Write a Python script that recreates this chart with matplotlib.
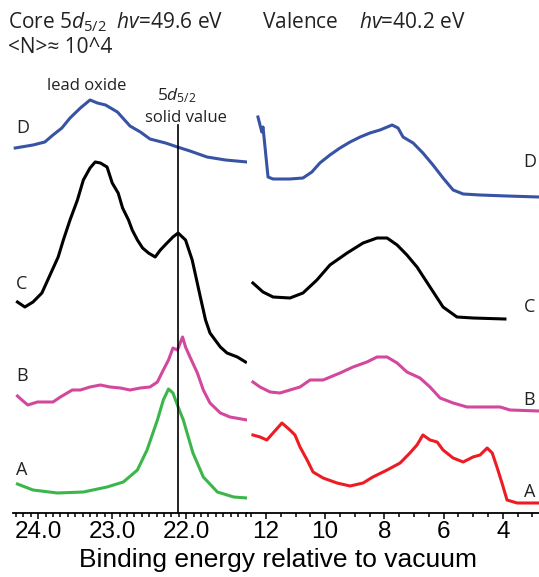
import numpy as np
import matplotlib
matplotlib.use("Agg")
import matplotlib.pyplot as plt
from matplotlib.ticker import MultipleLocator

plt.rcParams['mathtext.fontset'] = 'custom'
plt.rcParams['mathtext.rm'] = 'Open Sans'
plt.rcParams['mathtext.it'] = 'Open Sans:italic'

# ---- core level 5d5/2 spectra (binding energy eV, offset intensity a.u.)
core_D_e = [24.31, 24.07, 23.91, 23.80, 23.68, 23.57, 23.43, 23.30, 23.20, 23.09, 22.93,
            22.76, 22.62, 22.49, 22.28, 22.12, 21.95, 21.72, 21.47, 21.18]
core_D_y = [365, 368, 371, 378, 385, 395, 405, 413, 410, 408, 401,
            387, 381, 374, 370, 366, 362, 356, 353, 351]

core_C_e = [24.28, 24.18, 24.07, 23.95, 23.84, 23.73, 23.66, 23.57, 23.47, 23.39, 23.30,
            23.23, 23.16, 23.07, 23.00, 22.92, 22.86, 22.78, 22.73, 22.66, 22.59, 22.51,
            22.42, 22.35, 22.26, 22.18, 22.11, 22.01, 21.92, 21.81, 21.74, 21.68, 21.54,
            21.45, 21.31, 21.20]
core_C_y = [211, 206, 211, 220, 238, 256, 273, 293, 313, 333, 345,
            351, 350, 346, 330, 320, 305, 293, 283, 273, 265, 260,
            256, 263, 270, 276, 280, 273, 253, 216, 193, 180, 166,
            160, 156, 151]

core_B_e = [24.28, 24.22, 24.14, 24.01, 23.91, 23.80, 23.70, 23.54, 23.43, 23.30, 23.16,
            23.03, 22.89, 22.76, 22.62, 22.49, 22.39, 22.31, 22.24, 22.18, 22.12, 22.05,
            22.01, 21.95, 21.85, 21.77, 21.68, 21.54, 21.41, 21.18]
core_B_y = [117, 113, 108, 111, 111, 111, 116, 123, 123, 126, 128,
            126, 125, 123, 125, 126, 131, 143, 153, 165, 163, 176,
            166, 156, 140, 123, 110, 100, 96, 93]

core_A_e = [24.28, 24.07, 23.74, 23.39, 23.07, 22.85, 22.66, 22.53, 22.39, 22.31, 22.24,
            22.18, 22.11, 22.04, 21.91, 21.77, 21.58, 21.36, 21.18]
core_A_y = [29, 23, 20, 21, 26, 31, 43, 63, 93, 113, 124,
            120, 106, 93, 60, 36, 21, 16, 15]

# ---- valence spectra
val_D_e = [12.27, 12.14, 12.10, 11.93, 11.76, 11.19, 10.75, 10.45, 10.18, 9.84, 9.50,
           9.16, 8.82, 8.49, 8.15, 7.74, 7.54, 7.37, 7.03, 6.70, 6.36, 6.02,
           5.68, 5.34, 4.77, 3.86, 2.78]
val_D_y = [396, 381, 386, 336, 334, 334, 335, 341, 350, 358, 365,
           371, 376, 380, 383, 388, 385, 376, 370, 360, 348, 335,
           323, 319, 318, 317, 316]

val_C_e = [12.44, 12.10, 11.76, 11.19, 10.75, 10.28, 9.84, 9.26, 8.72, 8.25, 7.91,
           7.57, 7.24, 6.90, 6.46, 6.02, 5.55, 5.01, 3.93]
val_C_y = [230, 221, 216, 215, 220, 233, 248, 260, 270, 275, 275,
           268, 258, 246, 226, 206, 196, 195, 194]

val_B_e = [12.44, 12.20, 11.86, 11.53, 11.19, 10.85, 10.51, 10.07, 9.50, 9.06, 8.59,
           8.25, 7.91, 7.57, 7.24, 6.80, 6.46, 6.12, 5.68, 5.21, 4.77, 4.09,
           3.76, 2.78]
val_B_y = [131, 126, 121, 120, 123, 126, 133, 133, 140, 146, 151,
           156, 156, 150, 141, 135, 126, 115, 110, 106, 106, 106,
           103, 102]

val_A_e = [12.44, 12.20, 11.97, 11.76, 11.46, 11.19, 11.02, 10.85, 10.61, 10.41, 10.07,
           9.60, 9.16, 8.72, 8.39, 7.91, 7.47, 7.14, 6.90, 6.70, 6.46, 6.22,
           6.02, 5.68, 5.34, 5.01, 4.77, 4.53, 4.36, 4.20, 4.03, 3.86, 3.52, 2.78]
val_A_y = [78, 76, 73, 80, 90, 83, 78, 66, 53, 41, 35,
           30, 27, 30, 36, 43, 50, 60, 68, 78, 73, 71,
           63, 55, 51, 56, 58, 65, 60, 46, 30, 13, 10, 10]

solid_value_e = 22.11

blue, black, magenta, green, red = '#3953a4', '#000000', '#d2489d', '#3cb54a', '#ed1c24'

W, H = 539, 577
fig = plt.figure(figsize=(W / 100, H / 100), dpi=100)

def px_box(x0, x1, ytop, ybot):
    return [x0 / W, 1 - ybot / H, (x1 - x0) / W, (ybot - ytop) / H]

ax1 = fig.add_axes(px_box(13, 247, 90, 513))
ax2 = fig.add_axes(px_box(247, 539, 90, 513))

lw = 2.2
ax1.plot(core_D_e, core_D_y, color=blue, lw=lw)
ax1.plot(core_C_e, core_C_y, color=black, lw=lw)
ax1.plot(core_B_e, core_B_y, color=magenta, lw=lw)
ax1.plot(core_A_e, core_A_y, color=green, lw=lw)
ax1.plot([solid_value_e, solid_value_e], [0, 388], color='k', lw=1.2, clip_on=False)

ax2.plot(val_D_e, val_D_y, color=blue, lw=lw)
ax2.plot(val_C_e, val_C_y, color=black, lw=lw)
ax2.plot(val_B_e, val_B_y, color=magenta, lw=lw)
ax2.plot(val_A_e, val_A_y, color=red, lw=lw)

ax1.set_xlim(24.34, 21.18)
ax2.set_xlim(12.64, 2.78)

ax1.xaxis.set_major_locator(MultipleLocator(1.0))
ax1.xaxis.set_minor_locator(MultipleLocator(0.1))
ax1.xaxis.set_major_formatter(matplotlib.ticker.FormatStrFormatter('%.1f'))
ax2.xaxis.set_major_locator(MultipleLocator(2))
ax2.xaxis.set_minor_locator(MultipleLocator(0.5))

for ax in (ax1, ax2):
    ax.set_ylim(0, 423)
    for s in ('top', 'left', 'right'):
        ax.spines[s].set_visible(False)
    ax.spines['bottom'].set_linewidth(1.3)
    ax.set_yticks([])
    ax.patch.set_alpha(0)
    ax.tick_params(axis='x', which='major', length=4, width=1.1, pad=2,
                   labelsize=17.5, direction='out')
    ax.tick_params(axis='x', which='minor', length=3, width=1.1, direction='out')
    for lab in ax.get_xticklabels():
        lab.set_family('Liberation Sans')

lab_kw = dict(fontsize=13, family='Open Sans', color='#222222', va='center')
for t, y in zip('DCBA', [385, 229, 137, 43]):
    ax1.text(24.30, y, t, ha='left', **lab_kw)
for t, y in zip('DCBA', [351, 206, 113, 21]):
    ax2.text(3.30, y, t, ha='left', clip_on=False, **lab_kw)

def ftext(x, y, s, **kw):
    fig.text(x / W, 1 - y / H, s, va='baseline', **kw)

ftext(8, 28, r'Core 5$d_{5/2}$  $hv$=49.6 eV', fontsize=15, family=['Open Sans', 'DejaVu Sans'], color='#222222')
ftext(8, 53, '<N>\u2248 10^4', fontsize=15, family=['Open Sans', 'DejaVu Sans'], color='#222222')
ftext(262, 28, r'Valence    $hv$=40.2 eV', fontsize=15, family=['Open Sans', 'DejaVu Sans'], color='#222222')
ftext(87, 90, 'lead oxide', fontsize=12, family='Open Sans', ha='center', color='#222222')
ftext(177, 100, r'5$d_{5/2}$', fontsize=12.5, family='Open Sans', ha='center', color='#222222')
ftext(186, 122, 'solid value', fontsize=12, family='Open Sans', ha='center', color='#222222')
ftext(278, 567, 'Binding energy relative to vacuum', fontsize=19, family='Liberation Sans', ha='center')

fig.savefig('out.png', dpi=100)
